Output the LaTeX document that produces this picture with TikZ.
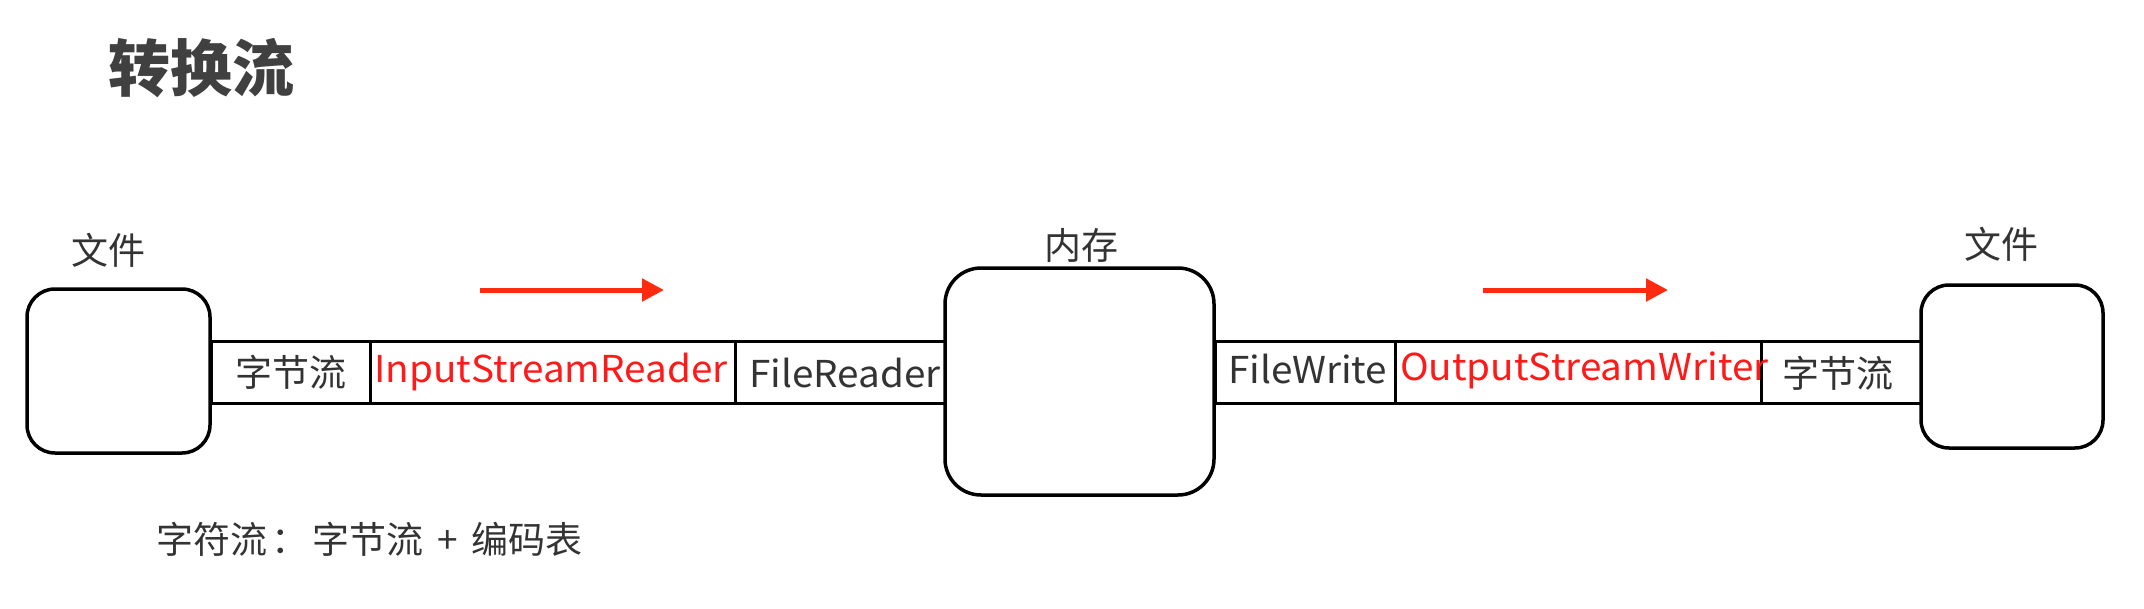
\documentclass[tikz,border=0pt]{standalone}
\usepackage{fontspec}
\setmainfont{Noto Sans CJK SC}
\newfontfamily\latinwide[FakeStretch=1.045]{Noto Sans CJK SC}
\usetikzlibrary{arrows.meta}
\definecolor{txt}{HTML}{333333}
\definecolor{ttl}{HTML}{404040}
\definecolor{redline}{HTML}{FF2A10}
\definecolor{redtxt}{HTML}{FF1A1A}
\begin{document}
\begin{tikzpicture}[x=1pt,y=-1pt,
  box/.style={draw=black,line width=3.5pt,rounded corners=28pt,fill=white},
  cell/.style={draw=black,line width=3pt,inner sep=0pt,anchor=north west},
  lbl/.style={text=txt,inner sep=0pt,font=\fontsize{37}{40}\selectfont},
  llbl/.style={text=txt,inner sep=0pt,font=\latinwide\fontsize{37}{40}\selectfont},
  rlbl/.style={text=redtxt,inner sep=0pt,font=\latinwide\fontsize{37}{40}\selectfont},
  flow/.style={draw=redline,line width=5pt,-{Triangle[length=22pt,width=22pt]}}]
\useasboundingbox (0,0) rectangle (2144,608);
% title
\node[text=ttl,inner sep=0pt,font=\fontsize{62}{66}\selectfont\bfseries] (title) at (201,68) {转换流};
% strip cells
\node[cell,minimum width=159pt,minimum height=62pt] (c1) at (210,340) {};
\node[cell,minimum width=365pt,minimum height=62pt] (c2) at (369,340) {};
\node[cell,minimum width=211pt,minimum height=62pt] (c3) at (734,340) {};
\node[cell,minimum width=180pt,minimum height=62pt] (c4) at (1214,340) {};
\node[cell,minimum width=366pt,minimum height=62pt] (c5) at (1394,340) {};
\node[cell,minimum width=161pt,minimum height=62pt] (c6) at (1760,340) {};
% boxes
\node[box,minimum width=183pt,minimum height=164pt] (fin) at (118.5,371) {};
\node[box,rounded corners=36pt,minimum width=269pt,minimum height=227pt] (mem) at (1079.5,381.5) {};
\node[box,minimum width=182pt,minimum height=163pt] (fout) at (2012,366.5) {};
% labels above boxes
\node[lbl] (lfin) at (108,250) {文件};
\node[lbl] (lmem) at (1081,245) {内存};
\node[lbl] (lfout) at (2001,244) {文件};
% cell texts
\node[lbl] (t1) at (c1.center) {字节流};
\node[rlbl,anchor=west] (t2) at (374,372) {InputStreamReader};
\node[llbl,anchor=west] (t3) at (749,373) {FileReader};
\node[llbl,anchor=west] (t4) at (1228,369) {FileWrite};
\node[rlbl,anchor=west] (t5) at (1400,370) {OutputStreamWriter};
\node[lbl] (t6) at (1838,373) {字节流};
% arrows
\coordinate (a1s) at (480,290);
\coordinate (a1e) at (664,290);
\coordinate (a2s) at (1483,290);
\coordinate (a2e) at (1668,290);
\draw[flow] (a1s) -- (a1e);
\draw[flow] (a2s) -- (a2e);
% bottom note
\node[text=txt,inner sep=0pt,anchor=west,font=\fontsize{37}{40}\selectfont] (note) at (156,539) {字符流\kern4pt：\kern4pt字节流\kern14pt+\kern14pt编码表};
\end{tikzpicture}
\end{document}
